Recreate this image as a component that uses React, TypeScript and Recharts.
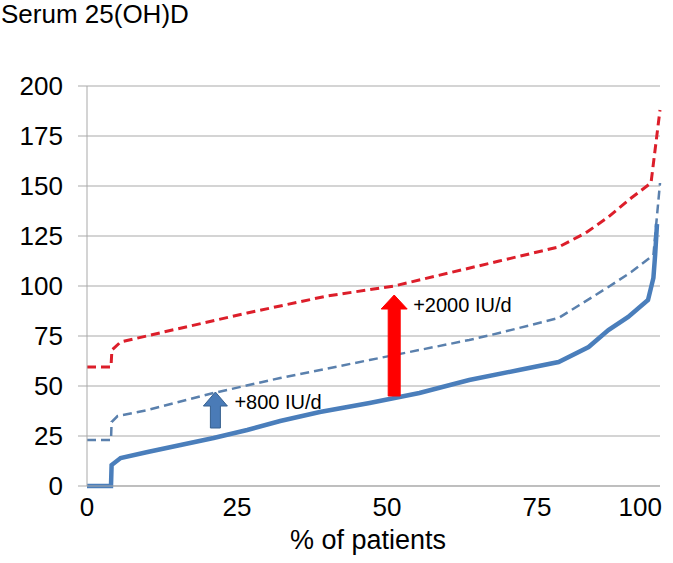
import React from "react";
import { LineChart, Line, XAxis, YAxis, CartesianGrid, ReferenceLine } from "recharts";

// x = % of patients (axis ends just short of 100, the "100" label sits at the end)
const X_MAX = 95.5;
const xTicks = [0, 25, 50, 75, X_MAX];
const xTickLabels = ["0", "25", "50", "75", "100"];
const yTicks = [0, 25, 50, 75, 100, 125, 150, 175, 200];

// measured serum 25(OH)D
const baseX = [0, 4.0, 4.1, 5.6, 10.1, 15.6, 21.1, 26.7, 32.2, 38.8, 47.1, 55.4, 63.7, 72, 78.6, 83.6, 86.9, 90.2, 93.5, 94.4, 94.7, 95.0];
const baseY = [0, 0, 10.5, 14, 17, 20.5, 24, 28, 32.5, 37, 41.5, 46.5, 53, 58, 62, 69.5, 78, 84.5, 93, 104, 116, 131];

// predicted with +800 IU/d
const plus800X = [0, 4.0, 4.1, 5.1, 10.1, 21.1, 32.2, 47.1, 63.7, 68.7, 78.6, 86.9, 90.7, 94.4, 95.5];
const plus800Y = [23, 23, 32, 35, 38, 46.5, 54, 63, 73, 76.5, 84, 99.5, 107, 115.5, 151.5];

// predicted with +2000 IU/d
const plus2000X = [0, 4.0, 4.15, 5.6, 12.8, 26.7, 40, 51.2, 68.7, 78.6, 83.1, 86.9, 90.7, 94.0, 95.5];
const plus2000Y = [59.5, 59.5, 68, 72, 77, 86.5, 95, 100, 112.5, 119.5, 126.5, 134.5, 144, 151.5, 188];

// dose arrows
const arrowX = [21.4, 51.2];
const arrowFrom = [29, 45];
const arrowTo = [47, 95.5];
const arrowLabels = ["+800 IU/d", "+2000 IU/d"];
const arrowColors = ["#4a7bb7", "#ff0000"];
const arrowEdges = ["#36608f", "#ff0000"];
const arrowShaft = [10, 12];
const arrowHead = [24, 26];

const toPoints = (xs: number[], ys: number[]) => xs.map((x, i) => ({ x, y: ys[i] }));

const FONT = '"Liberation Sans", Arial, sans-serif';

const makeArrow = (i: number) => (props: any) => {
  const { x1, y1, y2 } = props;
  const w = arrowShaft[i] / 2;
  const hw = arrowHead[i] / 2;
  const hh = 14;
  const pts = [
    [x1 - w, y1],
    [x1 - w, y2 + hh],
    [x1 - hw, y2 + hh],
    [x1, y2],
    [x1 + hw, y2 + hh],
    [x1 + w, y2 + hh],
    [x1 + w, y1],
  ]
    .map((p) => p.join(","))
    .join(" ");
  return (
    <g>
      <polygon points={pts} fill={arrowColors[i]} stroke={arrowEdges[i]} strokeWidth={1} />
      <text x={x1 + 19} y={y2 + 17} fontSize={20} fontFamily={FONT} fill="#000">
        {arrowLabels[i]}
      </text>
    </g>
  );
};

const XTick = (props: any) => {
  const { x, y, payload, index } = props;
  const last = index === xTicks.length - 1;
  return (
    <text x={last ? x + 2 : x} y={y} dy="0.71em" textAnchor={last ? "end" : "middle"} fontSize={26} fontFamily={FONT} fill="#000">
      {xTickLabels[xTicks.indexOf(payload.value)]}
    </text>
  );
};

export default function App() {
  return (
    <div style={{ position: "absolute", left: 0, top: 0, width: 673, height: 563, background: "#fff", fontFamily: FONT }}>
      <LineChart width={673} height={563} margin={{ top: 86, right: 13, left: 0, bottom: 0 }}>
        <CartesianGrid vertical={false} stroke="#a9a9a9" />
        <XAxis
          type="number"
          dataKey="x"
          domain={[0, X_MAX]}
          ticks={xTicks}
          height={77}
          tickLine={false}
          tickSize={0}
          tickMargin={12}
          axisLine={{ stroke: "#a9a9a9" }}
          tick={<XTick />}
          interval={0}
        />
        <YAxis
          type="number"
          domain={[0, 200]}
          ticks={yTicks}
          width={87}
          tickSize={9}
          tickMargin={15}
          tickLine={{ stroke: "#a9a9a9" }}
          axisLine={{ stroke: "#a9a9a9" }}
          tick={{ fontSize: 26, fill: "#000", fontFamily: FONT }}
          interval={0}
        />
        <Line data={toPoints(plus2000X, plus2000Y)} dataKey="y" type="linear" stroke="#dc1e2a" strokeWidth={3} strokeDasharray="9 5" dot={false} isAnimationActive={false} />
        <Line data={toPoints(plus800X, plus800Y)} dataKey="y" type="linear" stroke="#5a80ad" strokeWidth={2.5} strokeDasharray="9 5" dot={false} isAnimationActive={false} />
        <Line data={toPoints(baseX, baseY)} dataKey="y" type="linear" stroke="#4a7ebb" strokeWidth={4.5} dot={false} isAnimationActive={false} />
        {arrowX.map((ax, i) => (
          <ReferenceLine
            key={i}
            segment={[
              { x: ax, y: arrowFrom[i] },
              { x: ax, y: arrowTo[i] },
            ]}
            shape={makeArrow(i)}
          />
        ))}
      </LineChart>
      <div style={{ position: "absolute", left: 1, top: 1, zIndex: 2, fontSize: 26, lineHeight: "26px", whiteSpace: "nowrap" }}>Serum 25(OH)D</div>
      <div style={{ position: "absolute", left: 368, top: 527, zIndex: 2, transform: "translateX(-50%)", fontSize: 27, lineHeight: "27px", whiteSpace: "nowrap" }}>
        % of patients
      </div>
    </div>
  );
}
